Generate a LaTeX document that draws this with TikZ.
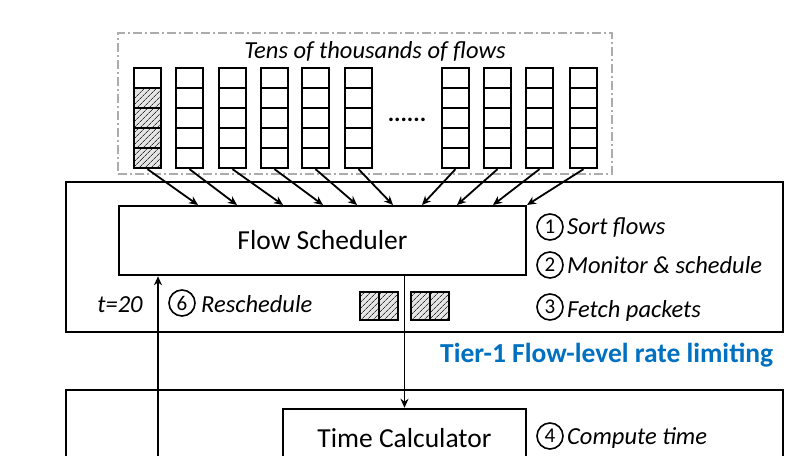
\documentclass[tikz,border=0pt]{standalone}
\usepackage{fontspec}
\setmainfont{Carlito}
\usetikzlibrary{arrows.meta,patterns.meta,calc}
\definecolor{tierblue}{RGB}{0,112,192}
\begin{document}
\begin{tikzpicture}[x=1pt,y=-1pt,
  box/.style={draw, line width=2.5pt, inner sep=0pt},
  cell/.style={draw, line width=2.3pt, minimum width=27pt, minimum height=20pt, inner sep=0pt},
  pkt/.style={draw, line width=1.8pt, minimum width=19pt, minimum height=28pt, inner sep=0pt},
  hatch/.style={preaction={fill=gray!20}, pattern={Lines[angle=45,distance=4pt,line width=0.8pt]}, pattern color=black!80},
  arr/.style={line width=1.8pt, -{Stealth[length=9pt,width=8pt]}},
  num/.style={draw, circle, line width=1.6pt, minimum size=26pt, inner sep=0pt, font=\fontsize{21}{21}\selectfont},
  lab/.style={anchor=base west, inner sep=0pt, font=\fontsize{24.5}{28}\selectfont\itshape},
  big/.style={font=\fontsize{27.5}{30}\selectfont}
]
\useasboundingbox (0,0) rectangle (808,455);
\clip (0,0) rectangle (808,455);

% tier boxes
\node[box, minimum width=717pt, minimum height=150pt] (tier1) at (424.5,257) {};
\node[box, minimum width=717pt, minimum height=120pt] (tier2) at (424.5,450) {};

% flows region
\node[draw=gray!65, line width=1.4pt, dash pattern=on 9pt off 3pt on 2pt off 3pt,
      minimum width=494pt, minimum height=141pt, inner sep=0pt] (flows) at (365,103.5) {};
\node[anchor=base, inner sep=0pt, font=\fontsize{24.5}{28}\selectfont\itshape] (title) at (375,58) {Tens of thousands of flows};

% queues
\foreach \x [count=\i] in {134,176,219,261,302,345,442,484,526,570} {
  \foreach \j in {1,...,5} {
    \node[cell] (c\i-\j) at (\x+13.5, 58+20*\j) {};
  }
}
\foreach \j in {2,...,5} \node[cell,hatch] (h\j) at (c1-\j) {};
\node[font=\fontsize{24}{28}\selectfont\bfseries, inner sep=0pt] (dots) at (407,120) {......};

% scheduler
\node[box, minimum width=407pt, minimum height=69pt, big] (sched) at (322.5,240.5) {Flow Scheduler};

% arrows into scheduler
\foreach \x [count=\i] in {198,237,283,323,357,393,422,457,493,527} \coordinate (e\i) at (\x,205);
\foreach \i in {1,...,10} \draw[arr] (c\i-5.south) -- (e\i);

% right labels tier 1
\node[num] (n1) at (550,227) {1};
\node[lab] (l1) at (567,234) {Sort flows};
\node[num] (n2) at (550,265) {2};
\node[lab] (l2) at (567,273) {Monitor \& schedule};
\node[num] (n3) at (550,307) {3};
\node[lab] (l3) at (567,317) {Fetch packets};

% reschedule
\node[lab, anchor=base] (t20) at (120,312) {t=20};
\node[num] (n6) at (182,303) {6};
\node[lab] (l6) at (201,312) {Reschedule};

% packets
\node[pkt,hatch] (p1) at (369.5,306) {};
\node[pkt,hatch] (p2) at (388.5,306) {};
\node[pkt,hatch] (p3) at (420.5,306) {};
\node[pkt,hatch] (p4) at (439.5,306) {};

% tier-1 label
\node[anchor=base west, inner sep=0pt, text=tierblue, font=\fontsize{27.5}{30}\selectfont\bfseries] (tier1lab) at (440,362) {Tier-1 Flow-level rate limiting};

% time calculator
\node[box, minimum width=243pt, minimum height=58pt, big] (tc) at (404.5,438) {Time Calculator};
\node[num] (n4) at (550,436) {4};
\node[lab] (l4) at (567,444) {Compute time};

% connectors
\draw[arr] (sched.south -| tc.north) -- (tc.north);
\coordinate (rb) at (158,470);
\draw[arr] (rb) -- (rb |- sched.south);
\end{tikzpicture}
\end{document}
